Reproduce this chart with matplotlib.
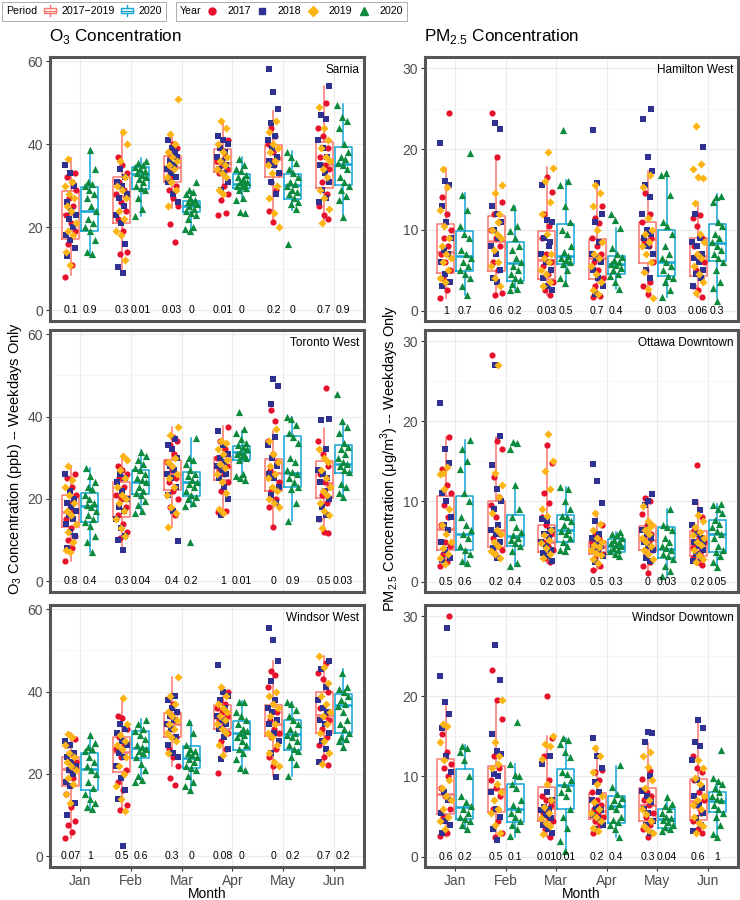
import matplotlib.pyplot as plt
import numpy as np
from matplotlib.lines import Line2D
from matplotlib.patches import Rectangle
from matplotlib.legend_handler import HandlerBase
from matplotlib.offsetbox import HPacker

plt.rcParams['font.family'] = ['Liberation Sans', 'DejaVu Sans']
plt.rcParams['mathtext.fontset'] = 'custom'
plt.rcParams['mathtext.rm'] = 'Liberation Sans'

months = ['Jan', 'Feb', 'Mar', 'Apr', 'May', 'Jun']
years = ['2017', '2018', '2019', '2020']
year_colors = ['#E8112D', '#2E3192', '#FDB515', '#0C8A3E']
year_markers = ['o', 's', 'D', '^']
year_sizes = [20, 16, 17, 27]
period_colors = ['#F8766D', '#12A5D6']

# box stats per month: [whisker low, q1, median, q3, whisker high]
sarnia_box_old = [[8.5, 17.2, 23.2, 28.6, 36.7], [9.3, 21.1, 27.4, 32.0, 43.4], [24.6, 30.9, 34.5, 37.1, 42.7],
                  [26.6, 33.2, 35.5, 38.9, 45.6], [21.4, 32.1, 36.4, 39.7, 48.1], [21.0, 29.4, 35.3, 40.6, 53.9]]
sarnia_box_new = [[13.3, 19.2, 23.8, 29.8, 38.9], [22.8, 29.3, 32.7, 34.6, 36.7], [19.4, 23.6, 25.2, 26.4, 28.6],
                  [26.5, 29.4, 30.5, 32.7, 36.9], [24.2, 26.8, 30.1, 32.7, 38.3], [22.2, 30.2, 35.2, 39.4, 49.6]]
sarnia_p_old = ['0.1', '0.3', '0.03', '0.01', '0.2', '0.7']
sarnia_p_new = ['0.9', '0.01', '0', '0', '0', '0.9']
sarnia_2017 = ["8 11 16 19 21 23 25 27 29 31 32 33", "13.5 14 19 22 24 26 28 29 31 33 35 37",
               "16.5 20.7 25 27 29 30 32 34 35 37 39 40", "23 23.5 26.5 28 30 33 34 35 36 37 39 41",
               "21.3 24 29 31 33 35 36 37 38 40 42 44", "22 23 25 28 31 34 35 37 39 42 44 50"]
sarnia_2018 = ["13 15 17 18 20 22 23 24 26 30 33 35", "9 10.5 16 21 23 25 27 28 30 31 32 34",
               "26 28 31 32 33 34 35 36 37 39 41 38", "29 31 33 34 35 36 37 38 39 40 41 42",
               "28 31 33 35 36 37 39 41 42 45 48.5 52.5 58.2", "26 27 29 31 33 35 37 39 41 46 47 54"]
sarnia_2019 = ["11 14 18 19 21 24 25 27 28 30 31 36.5", "12 18 19 22 24 27 29 30 32 36 40 43",
               "25 29 31 32 34 35 36 37 38 40 42.5 51", "28 29 32 33 34 35 36 37 38 40 44 45.5",
               "20 23.5 27 30 33 35 36 38 39 40 43 45.5", "21 24.5 27 29 32 34 36 37 39 41 44 49"]
sarnia_2020 = ["13.5 14 17 19 20 21 22 24 25 27 28 29 30 30.5 31 34 38.5",
               "22.8 24.5 27 29 29.5 30 31 31.5 32 32.5 33 33.5 34 34.5 35 35.5 36",
               "19 19.5 20 22 23 23.5 24 24.5 25 25.5 26 26 26.5 27 28 28.5 29 31",
               "23.5 23.6 26.5 27 29 29.5 30 30 30.5 31 31 31.5 32 32.5 33.5 34 35 36.5",
               "16 24.5 25.5 26 27 28 28.5 29 30 30.5 31 32 33 34 35.5 37 38",
               "22.5 26.5 27.5 29 30 31 32 34 35 35.5 36.5 37 38 40 44 45.5 46.5 49.5"]

toronto_box_old = [[5.0, 13.1, 16.9, 20.9, 28.0], [7.2, 15.5, 20.7, 24.0, 30.6], [13.1, 22.1, 26.1, 29.4, 37.4],
                   [15.9, 24.6, 27.8, 30.2, 37.8], [13.2, 21.9, 26.2, 29.7, 36.5], [11.6, 20.3, 23.8, 29.2, 37.3]]
toronto_box_new = [[7.0, 14.3, 18.3, 21.5, 27.6], [16.5, 21.3, 24.1, 27.0, 31.8], [18.1, 20.7, 24.0, 26.5, 34.8],
                   [25.0, 29.4, 31.4, 32.8, 36.6], [14.7, 23.0, 26.4, 35.2, 39.8], [20.3, 26.4, 28.5, 33.1, 39.0]]
toronto_p_old = ['0.8', '0.3', '0.4', '1', '0', '0.5']
toronto_p_new = ['0.4', '0.04', '0.2', '0.01', '0.9', '0.03']
toronto_2017 = ["5 8 10 11 13 15 17 19 21 23 25 26", "10.5 12 14 16 18 20 21 23 25 26 27 28",
                "16 18 20 22 24 25 27 29 31 33 34 35", "16.8 17 22 24 26 27 28 29 30 32 34 37.5",
                "13.2 18 20 22 24 26 27 29 31 34 39 41.5", "11.8 12 15 19 21 23 24 26 28 31 34 47"]
toronto_2018 = ["8 11 12 14 15 16 17 18 19 20 22 26", "7.5 10 11 13 15 17 18 20 22 24 25 26",
                "9.7 17 21 23 25 26 27 28 30 32 33 34.5", "16 20 23 25 26 27 28 29 30 31 33 36.5",
                "19 21 23 25 26 28 30 33 35 43 47.5 49", "15 16 18 20 22 24 25 26 27 32 39.2 39.3"]
toronto_2019 = ["7 7.5 9.5 12 14 16 17 19 21 23 24.5 28", "11 13 15 17 19 20 21 23 25 27 29.5 30.5",
                "13.2 16.5 18 21 23 25 26 28 29 30 35.5 37.5", "16.5 17.5 21.5 24 26 27.5 28.5 29.5 31 32 33.5 34",
                "18 19 20 22 23 25 26 28 29 31 34 37", "13 16 17 19 21 22 23 25 27 29 30 32"]
toronto_2020 = ["7 9.5 11 13.5 14.5 15 16 17 18 18.5 19 20 21 22.5 23 24 25.5 27.5",
                "16.5 17 18.5 19.5 21 21.5 22 23 24 24.5 25 26 27 27.5 28.5 29.5 30.5 31.5",
                "9.5 18.2 19 20 20.5 21 22 23 23.5 24 24.5 25.5 26 27 28.5 29.5 30 34.8",
                "24.5 25 25.5 26 29.5 30 30.5 31 31 31.5 32 32.5 33 33.5 34.5 36 37 41",
                "14.7 19 22.5 23 24 25 26 26.5 27 29 30 33.5 35 36 38 39.5 39.8",
                "20.5 21.5 23 23.5 26.5 27 28 28.5 29 30 31 32 32.5 33.5 36 37.5 39 45.5"]

windsorw_box_old = [[4.5, 17.0, 21.2, 24.2, 29.9], [11.0, 20.4, 25.4, 28.9, 38.4], [22.0, 28.9, 32.1, 34.8, 43.6],
                    [24.1, 30.9, 33.6, 36.7, 41.0], [19.5, 29.3, 32.1, 36.7, 47.5], [22.4, 30.0, 34.3, 40.0, 48.7]]
windsorw_box_new = [[11.5, 16.0, 21.2, 25.0, 29.6], [17.8, 23.9, 26.3, 30.5, 33.4], [16.0, 21.4, 23.8, 26.7, 32.7],
                    [20.8, 25.8, 29.9, 32.9, 37.8], [19.6, 25.8, 29.7, 33.2, 37.4], [26.5, 30.0, 36.8, 39.4, 45.5]]
windsorw_p_old = ['0.07', '0.5', '0.3', '0.08', '0', '0.7']
windsorw_p_new = ['1', '0.6', '0', '0', '0.2', '0.2']
windsorw_2017 = ["4.5 6 7.5 8.5 12 15 19 21 23 25 27 28.5", "11.2 12.5 16 18 21 24 26 27 29 31 33.5 34",
                 "17.3 19 22 24 26 29 31 32 33 34 35 37", "20.3 26 28 30 32 33 34 35 36 37 38 40",
                 "22 24 26 29 30 31 33 35 37 41 44 45", "22.2 24 27 29 31 33 34 36 40 43 44.5 47"]
windsorw_2018 = ["10 13 17 18 20 21 22 23 24 25 27 28", "2.5 14 16 19 22 24 25 27 28 30 31 32",
                 "24 25 27 29 31 32 33 34 35 36 38 39", "23.5 26 29 31 32 33 34 36 38 39 40 46.5",
                 "19.2 25 28 30 32 33 35 36 38 42.5 47.5 52.5 55.5", "23 26 28 30 32 33 35 36 38 41 45.5 47.5"]
windsorw_2019 = ["13 15 17.5 19 21 22 23 24 25 27 29 29.8", "11 14 17 20 22 24 26 27 28 29.5 32 38.5",
                 "25 28 29 30 31 32 33 34 35 37 39 43.5", "24.5 27 30 31 32 33 34 35 36 37 39 41",
                 "22 23 25 27 29 30 32 34 36 37 39 40", "22.5 25 28 30 32 34 35 37 39 42 46 48.5"]
windsorw_2020 = ["11.5 12 13 14 15 16.5 18 20 21 22 23 24 25.5 26 26.5 27.5 29.5",
                 "18 18.5 19.5 21 22.5 24 25 25.5 26 26.5 27 28.5 29.5 30.5 31 32 33",
                 "16 17 18 19.5 21 21.5 22 23 23.5 24 24.5 25 25.5 26 27 30 32.5",
                 "21 21.5 23.5 25 26 27 28 29 29.5 30 30.5 31 32 33 34 35 37.5 37.5",
                 "19.5 22.5 24 25.5 26 27 28 29 29.5 30 31 32 33 34 35.5 37 37.5",
                 "26.5 28 28.5 29 30 31 32 33 35 36.5 37 38 39 40 40.5 41 44.5"]

hamilton_box_old = [[1.5, 4.7, 7.2, 10.7, 17.6], [1.9, 4.9, 8.6, 11.7, 19.1], [1.9, 3.9, 6.3, 9.9, 17.8],
                    [1.7, 3.9, 6.5, 8.9, 15.9], [1.5, 5.9, 8.8, 11.0, 17.3], [1.7, 4.3, 6.8, 9.0, 13.4]]
hamilton_box_new = [[1.9, 4.9, 6.8, 9.8, 14.5], [2.5, 3.6, 5.9, 8.5, 12.9], [3.4, 5.7, 6.8, 10.7, 16.2],
                    [2.7, 4.5, 5.8, 6.8, 10.2], [1.7, 4.3, 6.0, 10.0, 17.1], [1.5, 6.1, 8.3, 10.7, 14.4]]
hamilton_p_old = ['1', '0.6', '0.03', '0.7', '0', '0.06']
hamilton_p_new = ['0.7', '0.2', '0.5', '0.4', '0.03', '0.3']
hamilton_2017 = ["1.5 2.5 4 5 6 7 8 9 10 12 14 24.5", "1.9 2.2 5 6 8 9 10 11 12 13.5 19 24.5",
                 "1.9 2.5 3.5 4.5 5.5 6 7 9 10.5 12 14.7 16.5", "1.7 1.8 3 4 5 6 7 8 9 10.8 11.5 13",
                 "2 3 3.5 5 6 8 8.5 9 10 11 12 14.5", "1.7 2.5 3 4 5 6 7 8 9 10.5 11.5 11.8"]
hamilton_2018 = ["3 3.5 4.5 6 7 7.5 9 11 13 15.5 16 20.8", "3.5 4 5 7 8 9 10 11 12 13 22.5 23.2",
                 "2.5 3 4 5 6 7 8 9 11 11.2 15.5 8.5", "2 3 4 5 6 6.5 7 8.5 11 12 15.8 22.4",
                 "4 5 7 8 9 9.5 10 12 14 15.5 17.3 19 23.7 25", "3 4 4.5 5 6 6.5 7 8 8.5 9 12 20.3"]
hamilton_2019 = ["3.5 4 5 6 6.5 7 8 9 10.5 12.5 15.3 17.5", "3 4 5.5 6 7.5 9 9.5 10 12 14.5 15.5 11",
                 "3 3.5 4.5 5 6 6.5 7 9.5 12 13.5 16 17.6 19.6", "2 2.5 3.5 4.5 5.5 6.5 7 8.5 10 13 14.5 15.5",
                 "1.5 2.7 4.8 6 7 8 8.5 9.5 10 11.5 15.3 16.8",
                 "2.2 3.5 4.5 5.5 6.5 7 8.5 9.5 13.3 16.4 16.5 17.5 18.1 22.8"]
hamilton_2020 = ["1.9 3 4 4.5 5 5.5 6 6.5 7 7.5 9 9.5 10.5 12.5 14.3 19.5",
                 "2.5 2.7 3.3 3.8 4 4.5 5 5.5 6 6.5 7.5 8 9 9.8 10.5 12.8",
                 "3.4 4 5 5.7 6 6.2 6.5 6.8 7.2 8 9.5 10 11 13 15.5 16 22.3",
                 "2.7 3.5 4.3 4.5 5 5.3 5.6 5.8 6 6.3 6.6 7 7.8 10.2 11.2 12",
                 "1.7 2.5 3.5 4 4.3 5 5.5 6 6.5 7 8 9.5 10.5 11 14.3 17 16.8",
                 "1.2 2.8 3.5 5 6 6.5 7 7.5 8 8.5 9 9.5 10.5 11 13.5 14.2 14"]

ottawa_box_old = [[1.9, 4.0, 6.6, 10.7, 18.1], [2.9, 4.3, 6.5, 10.1, 18.1], [2.3, 3.7, 5.0, 7.1, 17.0],
                  [1.4, 3.5, 4.3, 5.1, 8.7], [1.1, 3.9, 5.2, 6.9, 10.5], [2.1, 3.2, 4.6, 6.3, 10.1]]
ottawa_box_new = [[2.3, 3.9, 6.0, 10.7, 17.7], [1.9, 4.4, 5.7, 8.3, 12.0], [3.7, 4.9, 6.4, 8.3, 11.8],
                  [3.1, 3.7, 4.5, 5.3, 6.2], [0.6, 3.0, 4.1, 6.8, 9.0], [1.7, 3.7, 6.0, 7.7, 9.7]]
ottawa_p_old = ['0.5', '0.2', '0.2', '0.5', '0', '0.2']
ottawa_p_new = ['0.6', '0.4', '0.03', '0.3', '0.03', '0.05']
ottawa_2017 = ["1.9 2.5 3.5 4.5 5 7 8 9.5 11 12 14 18", "3.5 4 4.5 5.5 6 8 9.5 10.5 13 16.5 17.6 28.3",
               "2.4 3 4 4.5 5 6 7 8 9.8 11 14.8 17", "1.4 2 3 3.5 4 4.2 4.5 4.8 5 5.5 6 7",
               "1.1 2 2.5 3.5 4 5 5.5 6 7 8.4 10 10.4", "2.1 2.5 3 3.8 4.5 5 5.5 6.5 8 14.6 4.2 3.6"]
ottawa_2018 = ["2.7 3 4 5 6.5 7 8 10 11 14.8 16.5 22.3", "3 4.2 5 6 6.5 7 9 10 11.5 14.5 18.2 27",
               "2.6 3.2 3.6 4 4.5 5 5.5 6 6.5 7.5 7.8 6.3", "2.5 3.2 3.8 4.2 4.5 5 5.5 6 7.6 9.8 12.5 14.7",
               "2.6 3 4 4.5 5 5.5 6 6.5 7 9.6 10.9 10.1", "2.6 3 3.5 4 4.5 5 5.5 6 7 8.9 9.9 4.8"]
ottawa_2019 = ["2.2 3 3.5 4.2 5 6 7 9 11.5 13.4 14.3 13.5", "2.9 3.5 3.8 4.5 5 6 6.5 8.5 10.5 13.5 12 27",
               "3 3.5 4.2 4.8 5.2 5.8 6.5 8.2 9 11.6 13.8 15 18.4", "2.3 2.8 3.3 3.6 4 4.3 4.6 5 5.5 6.5 7.2 8.6",
               "2.8 3.5 4 4.5 5 5.5 6 6.5 7 7.5 9.4 6.8", "2.4 2.8 3.3 4 4.6 5 5.5 6.2 6.8 7.5 8.3 5.8"]
ottawa_2020 = ["2.3 2.6 3.5 4 4.5 5.5 6 6.5 7 8 10 11 14 15 16.5 17.7",
               "1.9 2.3 3.8 4.4 4.8 5.2 5.5 5.8 6.2 6.8 8 9 12 16.6 17.3 17.4",
               "3.8 4 4.5 5 5.5 6 6.3 6.5 7 7.5 8 8.2 9 10 11.8 11.6",
               "3.2 3.5 3.8 4 4.2 4.4 4.6 4.8 5 5.2 5.5 5.8 6 6.2",
               "0.7 1.3 2 2.8 3.2 3.5 4 4.2 4.5 5 5.5 6.5 6.8 7 9",
               "1.8 2.5 3.2 3.7 4 4.5 5.5 6 6.3 6.8 7.2 7.7 8.5 9 9.5 9.7"]

windsord_box_old = [[2.5, 5.3, 7.8, 12.2, 19.3], [2.2, 5.6, 8.4, 11.3, 19.5], [2.4, 4.5, 6.1, 8.7, 15.0],
                    [3.0, 4.7, 5.7, 7.9, 13.8], [2.4, 4.5, 6.4, 8.6, 14.2], [2.9, 4.6, 6.9, 9.7, 16.7]]
windsord_box_new = [[3.4, 4.7, 6.2, 10.9, 13.9], [2.5, 4.3, 6.0, 9.1, 11.5], [0.7, 5.9, 8.9, 10.9, 14.8],
                    [2.4, 4.2, 6.3, 7.6, 11.3], [3.2, 3.6, 4.7, 5.9, 7.6], [2.5, 5.6, 6.9, 8.1, 9.4]]
windsord_p_old = ['0.6', '0.5', '0.01', '0.2', '0.3', '0.6']
windsord_p_new = ['0.2', '0.1', '0.01', '0.4', '0.04', '1']
windsord_2017 = ["2.6 3 5 6 7.5 8.5 10 11 11.5 13 15.3 30", "2.5 3 4.5 6 7.5 8.5 9.5 11 12.5 17.2 19.5 23.3",
                 "2.5 3.5 4.5 5 5.5 6.5 7 7.5 9.5 12.5 14.8 20", "3 4 4.5 5 5.5 6 6.5 7 8 9.5 10.5 10.8",
                 "2.4 3.5 4 5 5.5 6.5 7 7.5 8 9.7 10.7 7.2", "2.9 3.5 4.5 5.5 6.5 7 8 9.5 10.5 11 12.5 6"]
windsord_2018 = ["3 4 4.5 5.5 7 8 10.5 12.5 16 17.8 19.3 22.6 28.5", "2.1 3.5 5 6 8 10 10.3 12.8 13.2 15.3 22 26.4",
                 "3 3.5 4 4.8 5.2 5.8 6 6.2 7 8 11.5 12.5", "3.5 4 4.8 5.2 5.8 6.2 7 8 9.3 11 12.6 14.8",
                 "3 4 4.5 5.5 6 6.8 7.5 8.2 10 14.3 15.4 15.5", "3.2 4 4.8 5.5 6.5 7.5 8.5 9.5 12 13.8 14.3 16 17"]
windsord_2019 = ["3.5 4.5 5 6 7 7.5 8.5 9.5 12 14.3 16.3 16.5", "3 4 5.5 6 7 8 9 11 12.5 14.3 19.5 11.6",
                 "2.8 3.8 4.2 4.8 5.5 6.2 7 9 12.2 13.8 14.1 15", "3.2 3.6 4.5 5 5.5 6 6.8 7.5 9 10.5 12.5 13.6",
                 "3 3.3 3.8 4.5 5.3 6 7 8.5 9.5 11.2 12.5 13", "3 3.8 4.2 5 6 7 7.5 9 9.8 11 12 6.5"]
windsord_2020 = ["3.5 4 4.5 4.7 5 5.5 6 6.3 6.8 7.5 10 12 13 13.5 13.8",
                 "2.6 3.5 4 4.5 5 5.5 6 6.5 7 8.5 9 10 10.2 11.5 16.8",
                 "0.7 2 3.6 5 6 7.5 8 8.5 9 9.5 10.3 10.6 12.4 13 14 14.5 14.8",
                 "2.4 3.5 4 4.3 4.6 5 6 6.3 6.6 7 7.3 7.8 8.7 11.4",
                 "3.2 3.5 3.7 4 4.3 4.6 4.8 5 5.5 5.9 6.3 6.6 7.4",
                 "2.5 2.8 4 5 5.5 6 6.5 7 7.2 7.5 8 8.5 9 9.4 9.8 13.3"]

o3_ticks = [0, 20, 40, 60]
pm_ticks = [0, 10, 20, 30]

panels = [
    ('Sarnia', 0, 0, sarnia_box_old, sarnia_box_new, sarnia_p_old, sarnia_p_new,
     [sarnia_2017, sarnia_2018, sarnia_2019, sarnia_2020]),
    ('Toronto West', 1, 0, toronto_box_old, toronto_box_new, toronto_p_old, toronto_p_new,
     [toronto_2017, toronto_2018, toronto_2019, toronto_2020]),
    ('Windsor West', 2, 0, windsorw_box_old, windsorw_box_new, windsorw_p_old, windsorw_p_new,
     [windsorw_2017, windsorw_2018, windsorw_2019, windsorw_2020]),
    ('Hamilton West', 0, 1, hamilton_box_old, hamilton_box_new, hamilton_p_old, hamilton_p_new,
     [hamilton_2017, hamilton_2018, hamilton_2019, hamilton_2020]),
    ('Ottawa Downtown', 1, 1, ottawa_box_old, ottawa_box_new, ottawa_p_old, ottawa_p_new,
     [ottawa_2017, ottawa_2018, ottawa_2019, ottawa_2020]),
    ('Windsor Downtown', 2, 1, windsord_box_old, windsord_box_new, windsord_p_old, windsord_p_new,
     [windsord_2017, windsord_2018, windsord_2019, windsord_2020]),
]

W, H = 740, 900
col_x = [50, 425]
col_w = [314, 313]
row_y = [(57, 321), (330, 592), (605, 867)]
dodge = 0.1875
box_w = 0.3375


def jitter(n, seed):
    # deterministic spread of x offsets inside +-0.12
    return ((np.arange(n) * 0.618034 + seed * 0.37) % 1.0 - 0.5) * 0.24


def box_stats(rows):
    return [dict(whislo=r[0], q1=r[1], med=r[2], q3=r[3], whishi=r[4], fliers=[]) for r in rows]


fig = plt.figure(figsize=(W / 100, H / 100), dpi=100)

for name, r, c, bold, bnew, pold, pnew, pts in panels:
    top, bot = row_y[r]
    ax = fig.add_axes([col_x[c] / W, 1 - bot / H, col_w[c] / W, (bot - top) / H])
    pos = np.arange(1, 7)
    for stats, off, col in [(bold, -dodge, period_colors[0]), (bnew, dodge, period_colors[1])]:
        ax.bxp(box_stats(stats), positions=pos + off, widths=box_w, showcaps=False, showfliers=False,
               patch_artist=False,
               boxprops=dict(color=col, lw=1.1), whiskerprops=dict(color=col, lw=1.1),
               medianprops=dict(color=col, lw=1.8), manage_ticks=False, zorder=2)
    for yi in range(4):
        off = dodge if yi == 3 else -dodge
        for mi in range(6):
            vals = np.array(pts[yi][mi].split(), dtype=float)
            xs = mi + 1 + off + jitter(len(vals), yi * 6 + mi)
            ax.scatter(xs, vals, s=year_sizes[yi], marker=year_markers[yi], color=year_colors[yi],
                       linewidths=0, zorder=3)
    for mi in range(6):
        ax.text(mi + 1 - dodge, 0, pold[mi], ha='center', va='center', fontsize=7.6)
        ax.text(mi + 1 + dodge, 0, pnew[mi], ha='center', va='center', fontsize=7.6)

    ticks = o3_ticks if c == 0 else pm_ticks
    ax.set_ylim((-2.6, 61.0) if c == 0 else (-1.3, 31.4))
    ax.set_xlim(0.4, 6.6)
    ax.set_yticks(ticks)
    ax.set_yticks([t + (ticks[1] - ticks[0]) / 2 for t in ticks[:-1]], minor=True)
    ax.set_xticks(pos)
    ax.grid(which='major', color='#EBEBEB', lw=0.8, zorder=0)
    ax.grid(which='minor', axis='y', color='#F3F3F3', lw=0.5, zorder=0)
    ax.set_axisbelow(True)
    ax.tick_params(axis='y', which='major', length=3, width=0.8, color='#333333',
                   labelsize=10, labelcolor='#4D4D4D', pad=2)
    ax.tick_params(axis='y', which='minor', length=0)
    if r == 2:
        ax.set_xticklabels(months)
        ax.tick_params(axis='x', length=3, width=0.8, color='#333333', labelsize=10,
                       labelcolor='#4D4D4D', pad=2)
        ax.set_xlabel('Month', fontsize=10, labelpad=-1)
    else:
        ax.set_xticklabels([])
        ax.tick_params(axis='x', length=0)
    for sp in ax.spines.values():
        sp.set_color('#555555')
        sp.set_linewidth(2.2)
    ax.text(0.985, 0.95, name, transform=ax.transAxes, ha='right', va='center', fontsize=8.5)

fig.text(49 / W, 1 - 37 / H, r'O$_\mathregular{3}$ Concentration', fontsize=12.3, va='center', ha='left')
fig.text(424 / W, 1 - 37 / H, r'PM$_\mathregular{2.5}$ Concentration', fontsize=12.3, va='center', ha='left')
fig.text(15 / W, 1 - 458 / H, r'O$_\mathregular{3}$ Concentration (ppb) -- Weekdays Only',
         rotation=90, fontsize=10.5, va='center', ha='center')
fig.text(390 / W, 1 - 458 / H, r'PM$_\mathregular{2.5}$ Concentration (μg/m$^\mathregular{3}$) -- Weekdays Only',
         rotation=90, fontsize=10.5, va='center', ha='center')


class BoxGlyph(HandlerBase):
    def create_artists(self, legend, orig, xd, yd, w, h, fs, trans):
        col = orig.get_color()
        x0, x1, xc = xd + 0.1 * w, xd + 0.9 * w, xd + 0.5 * w
        return [Rectangle((x0, yd + 0.15 * h), x1 - x0, 0.7 * h, fill=False, ec=col, lw=1.0, transform=trans),
                Line2D([x0, x1], [yd + 0.5 * h] * 2, color=col, lw=1.0, transform=trans),
                Line2D([xc, xc], [yd - 0.25 * h, yd + 0.15 * h], color=col, lw=1.0, transform=trans),
                Line2D([xc, xc], [yd + 0.85 * h, yd + 1.25 * h], color=col, lw=1.0, transform=trans)]


def side_title(leg, sep):
    # put the legend title on the left of the keys, like ggplot's top legend
    fs = leg._fontsize
    box = HPacker(pad=leg.borderpad * fs, sep=sep * fs, align='center',
                  children=[leg._legend_title_box, leg._legend_handle_box])
    box.set_figure(fig)
    box.set_offset(leg._findoffset)
    leg._legend_box = box
    leg.get_frame().set_linewidth(0.6)


ph = [Line2D([], [], color=period_colors[0]), Line2D([], [], color=period_colors[1])]
leg1 = fig.legend(ph, ['2017\u22122019', '2020'], title='Period', ncol=2, loc='upper left',
                  bbox_to_anchor=(2 / W, 1 - 2 / H), borderaxespad=0, frameon=True, fancybox=False,
                  edgecolor='#888888', fontsize=7.7, title_fontsize=7.7, handlelength=1.4,
                  handletextpad=0.4, columnspacing=0.4, borderpad=0.4,
                  handler_map={ph[0]: BoxGlyph(), ph[1]: BoxGlyph()})
side_title(leg1, 0.45)

yh = [Line2D([], [], ls='none', marker=year_markers[i], color=year_colors[i], markersize=5 if i != 3 else 6)
      for i in range(4)]
leg2 = fig.legend(yh, years, title='Year', ncol=4, loc='upper left',
                  bbox_to_anchor=(176 / W, 1 - 2 / H), borderaxespad=0, frameon=True, fancybox=False,
                  edgecolor='#888888', fontsize=7.7, title_fontsize=7.7, handlelength=1.3,
                  handletextpad=0.8, columnspacing=0.45, borderpad=0.4)
side_title(leg2, 0.25)

fig.savefig('out.png', dpi=100)
